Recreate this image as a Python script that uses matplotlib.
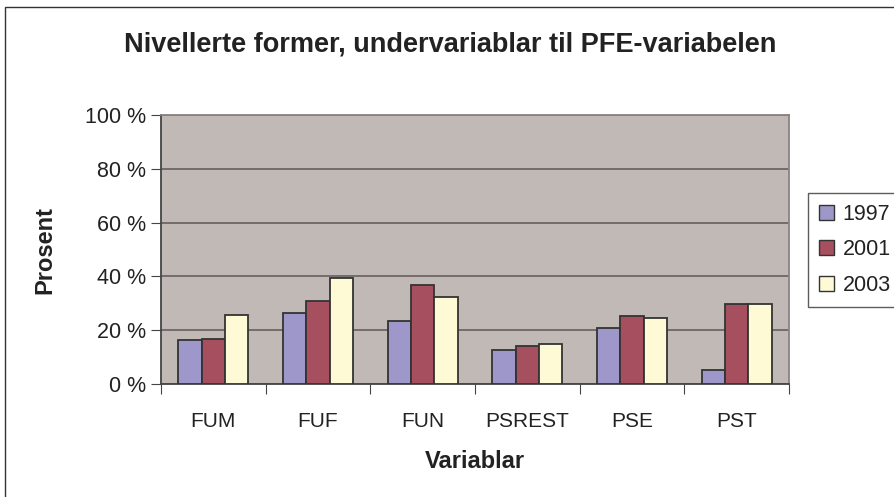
import matplotlib
matplotlib.use("Agg")
import matplotlib.pyplot as plt
from matplotlib.patches import Rectangle, Patch
import numpy as np

plt.rcParams['font.family'] = ['Liberation Sans', 'DejaVu Sans']

categories = ["FUM", "FUF", "FUN", "PSREST", "PSE", "PST"]
years = ["1997", "2001", "2003"]
v1997 = [16.2, 26.5, 23.5, 12.5, 20.7, 5.3]
v2001 = [16.9, 31.0, 36.9, 14.3, 25.3, 29.9]
v2003 = [25.8, 39.4, 32.3, 14.9, 24.6, 29.9]
yticks = [0, 20, 40, 60, 80, 100]
title = "Nivellerte former, undervariablar til PFE-variabelen"

colors = ["#9E98CA", "#A64F5F", "#FFFAD6"]
edge = "#333333"
W, H = 895, 497

fig = plt.figure(figsize=(W / 100, H / 100), dpi=100)
fig.patch.set_facecolor("white")

# chart border (right and bottom run off the picture)
fig.patches.append(Rectangle((5 / W, -0.1), 1.0, 1.1 - 7 / H,
                             transform=fig.transFigure, fill=False,
                             edgecolor="#333333", linewidth=1.0))

ax = fig.add_axes([161 / W, (H - 384) / H, 628 / W, 269 / H])
ax.set_facecolor("#C1B9B6")

x = np.arange(len(categories))
bw = 0.222
for i, (vals, c) in enumerate(zip([v1997, v2001, v2003], colors)):
    ax.bar(x + (i - 1) * bw, vals, width=bw, color=c, edgecolor=edge,
           linewidth=1.3, zorder=3, label=years[i])

ax.set_xlim(-0.5, len(categories) - 0.5)
ax.set_ylim(0, 100)

ax.set_yticks(yticks)
ax.set_yticklabels([f"{t} %" for t in yticks], fontsize=15.5, color="#222222")
ax.yaxis.grid(True, color="#6E6666", linewidth=1.3, zorder=1)
ax.set_axisbelow(True)

ax.set_xticks(np.arange(-0.5, len(categories), 1.0))
ax.set_xticklabels([])
ax.set_xticks(x, minor=True)
ax.set_xticklabels(categories, minor=True, fontsize=15, color="#222222")
ax.tick_params(axis="x", which="minor", length=0, pad=20)
ax.tick_params(axis="x", which="major", length=7, direction="out", color="#444444")
ax.tick_params(axis="y", length=7, direction="out", color="#444444", pad=4)

for s in ["left", "bottom"]:
    ax.spines[s].set_color("#444444")
    ax.spines[s].set_linewidth(1.3)
for s in ["right", "top"]:
    ax.spines[s].set_color("#8A8282")
    ax.spines[s].set_linewidth(1.3)

ax.set_xlabel("Variablar", fontsize=17, fontweight="bold", color="#222222", labelpad=14)
ax.set_ylabel("Prosent", fontsize=17, fontweight="bold", color="#222222", labelpad=20)

fig.text(450 / W, 1 - 45 / H, title, ha="center", va="center", fontsize=19.5,
         fontweight="bold", color="#222222")

handles = [Patch(facecolor=c, edgecolor=edge, linewidth=1.0) for c in colors]
leg = fig.legend(handles, years, loc="upper left",
                 bbox_to_anchor=(808 / W, 1 - 193 / H), fontsize=15.5,
                 frameon=True, fancybox=False, borderaxespad=0,
                 handlelength=0.7, handleheight=0.7, handletextpad=0.4,
                 labelspacing=0.68, borderpad=0.5)
leg.get_frame().set_edgecolor("#333333")
leg.get_frame().set_linewidth(1.0)
for t in leg.get_texts():
    t.set_color("#222222")

fig.savefig("out.png", dpi=100)
